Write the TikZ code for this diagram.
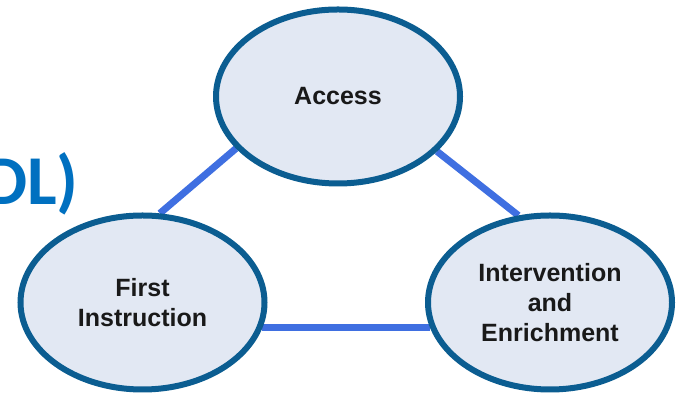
\documentclass[tikz,border=0pt]{standalone}
\usepackage{fontspec}
\setmainfont{Liberation Sans}
\newfontfamily\titlefont{Carlito}
\usetikzlibrary{shapes.geometric,backgrounds}
\definecolor{rimblue}{HTML}{0B5D91}
\definecolor{lightfill}{HTML}{E2E8F3}
\definecolor{linkblue}{HTML}{3F6FE1}
\definecolor{titleblue}{HTML}{0070C0}
\begin{document}
\begin{tikzpicture}[x=1pt, y=1pt,
  part/.style={ellipse, draw=rimblue, line width=6pt, fill=lightfill, minimum width=244pt, minimum height=174pt, inner sep=0pt, align=center, text=black!90, font=\bfseries\fontsize{25}{30}\selectfont},
  link/.style={linkblue, line width=7pt}]
\useasboundingbox (0,0) rectangle (679,395);
\node[anchor=base east, text=titleblue, font=\titlefont\bfseries\fontsize{70}{80}\selectfont, inner sep=0pt] (title) at (79,190) {DL)};
\node[part] (access) at (338,298.5) {Access};
\node[part] (first) at (142.5,92.5) {First\\Instruction};
\node[part] (interv) at (550,92.5) {Intervention\\and\\Enrichment};
\begin{scope}[on background layer]
\draw[link] (first.79) -- (access.207);
\draw[link] (access.331) -- (interv.110);
\draw[link] (first.-12) -- (interv.192);
\end{scope}
\end{tikzpicture}
\end{document}
